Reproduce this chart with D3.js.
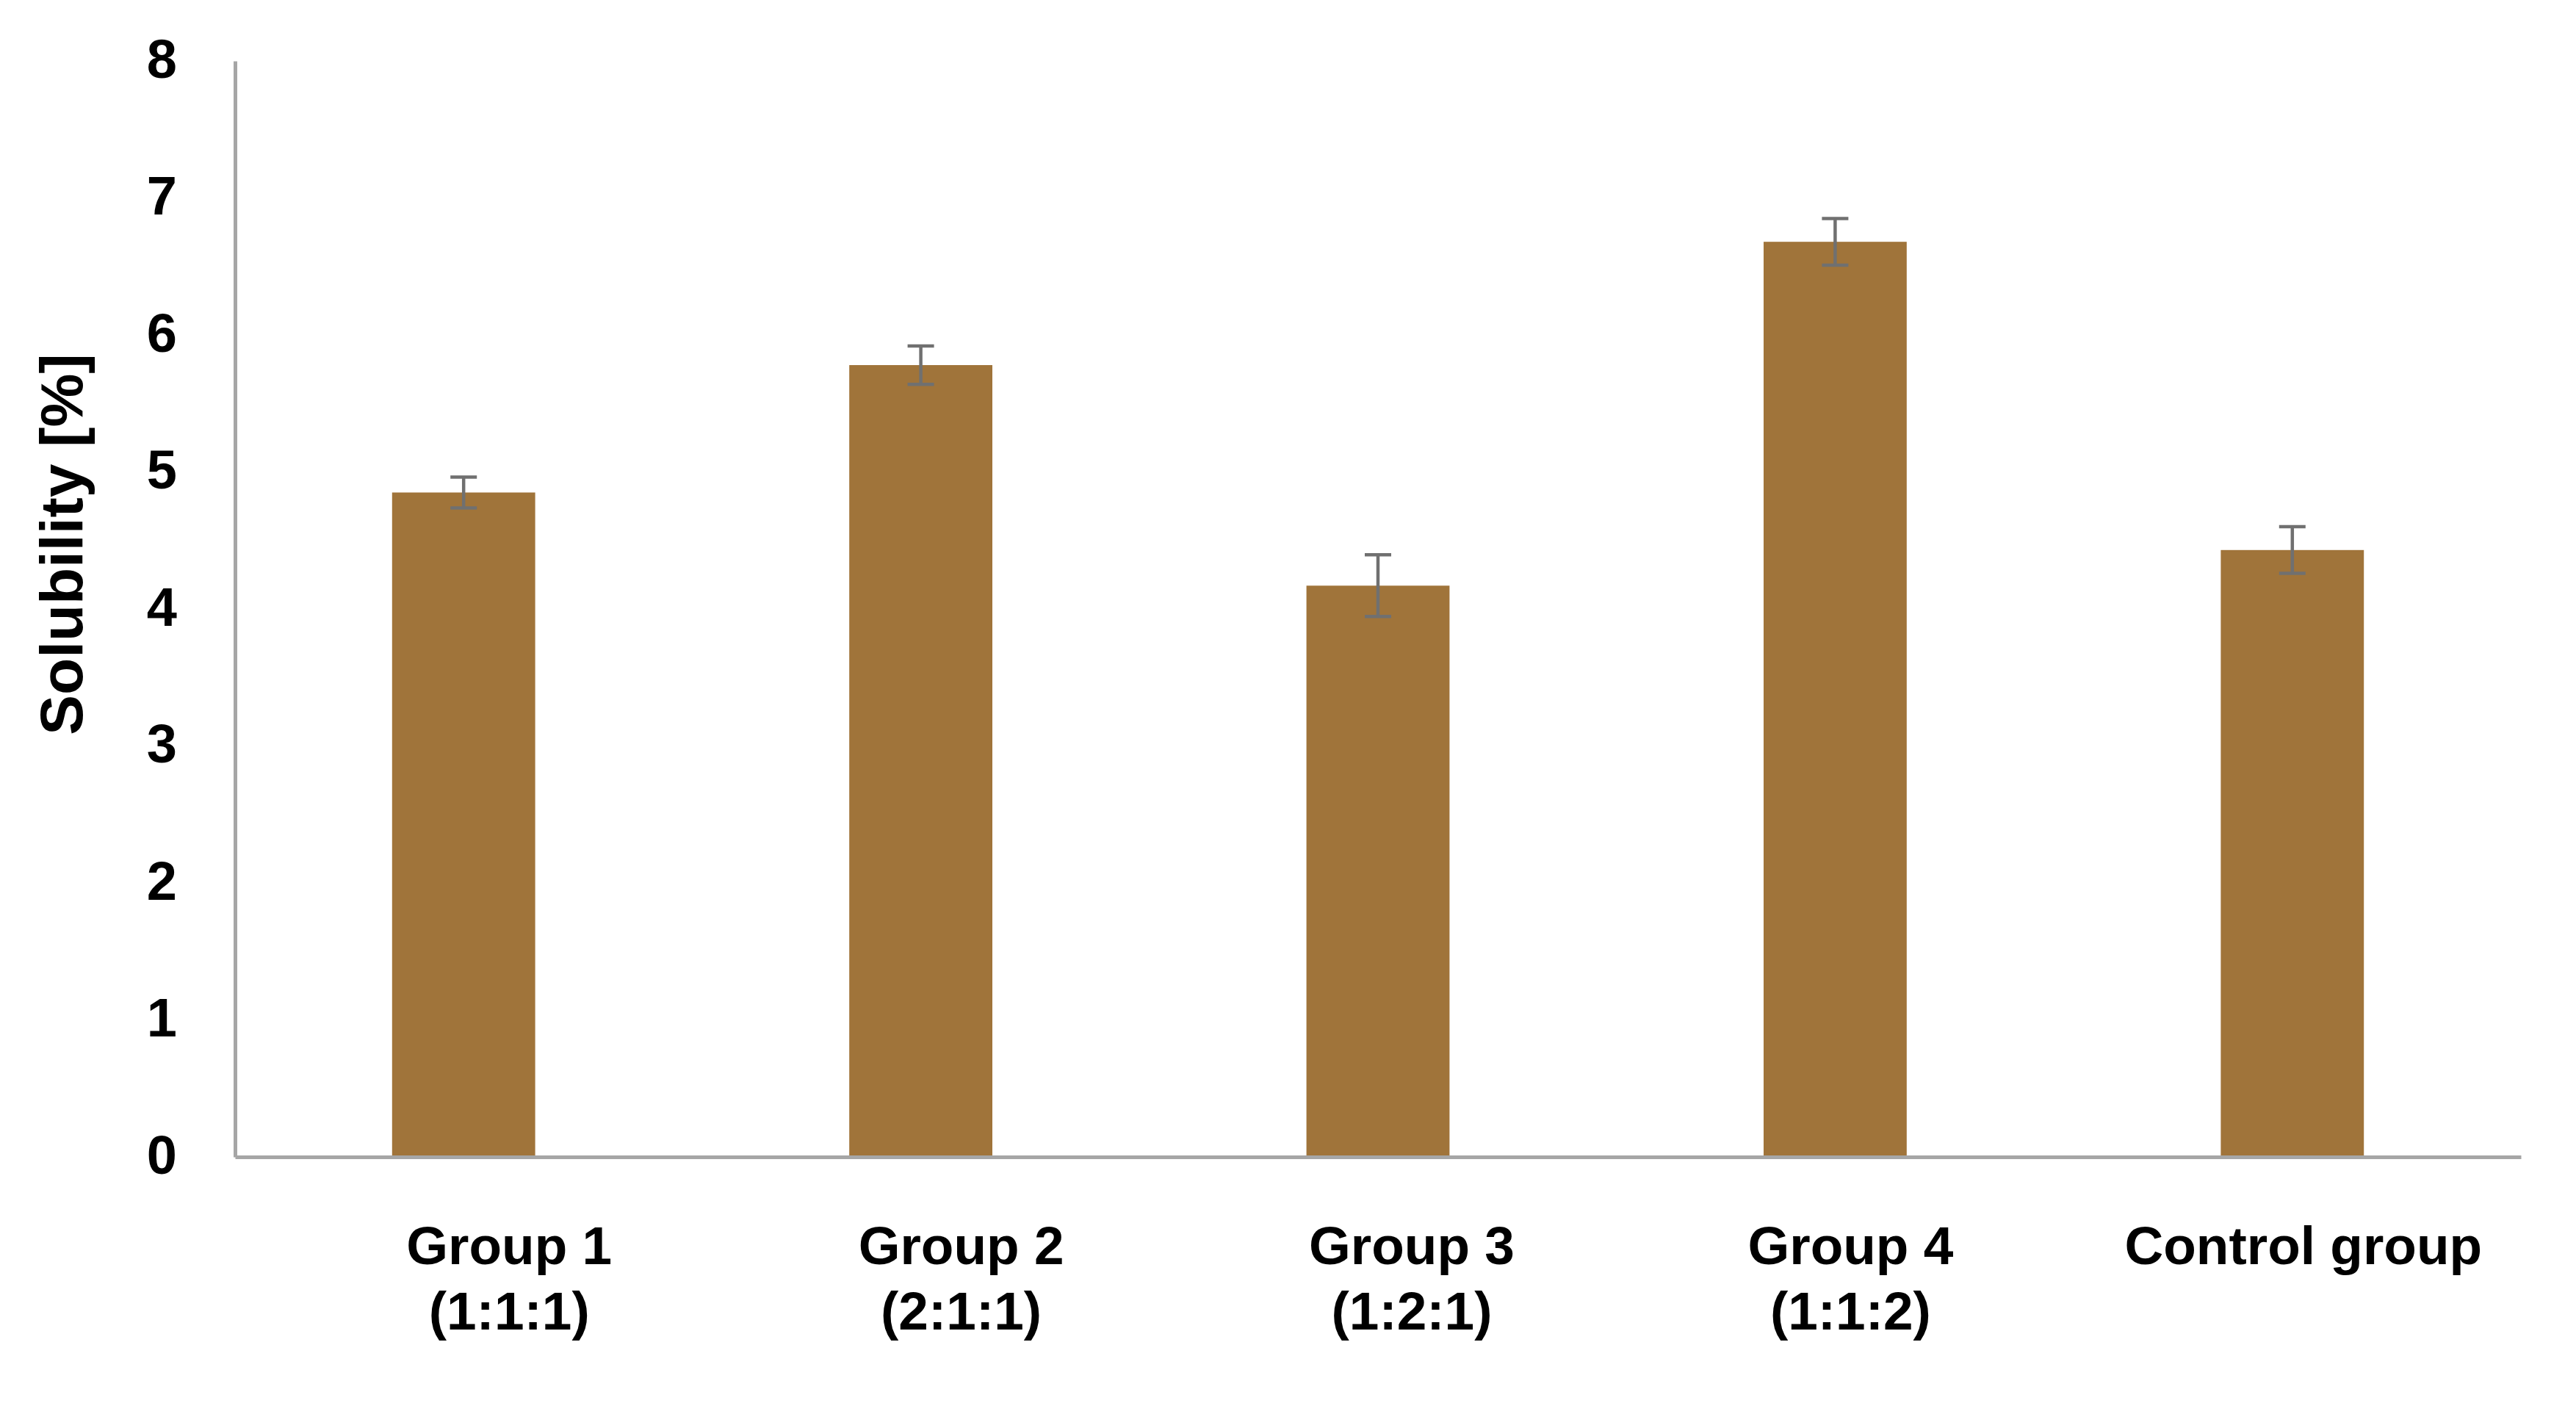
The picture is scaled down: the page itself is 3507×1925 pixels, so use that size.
<!DOCTYPE html>
<html>
<head>
<meta charset="utf-8">
<script src="https://cdn.jsdelivr.net/npm/d3@7"></script>
<style>
  body { margin: 0; background: #fff; }
  text { font-family: "Liberation Sans", Arial, sans-serif; font-weight: bold; fill: #000; }
</style>
</head>
<body>
<svg width="3507" height="1925"></svg>
<script>
// data
const groups = ["Group 1", "Group 2", "Group 3", "Group 4", "Control group"];
const ratios = ["(1:1:1)", "(2:1:1)", "(1:2:1)", "(1:1:2)", ""];
const solubility = [4.85, 5.78, 4.17, 6.68, 4.43];
const sd = [0.113, 0.14, 0.225, 0.17, 0.17];
const yTicks = [0, 1, 2, 3, 4, 5, 6, 7, 8];

// layout
const svg = d3.select("svg");
const plotLeft = 320, plotRight = 3432, plotTop = 83, plotBottom = 1575;
// labels in the original sit a little right of the bar centres
const labelNudge = [62, 55, 46, 21, 15];

const x = d3.scaleBand()
    .domain(groups)
    .range([plotLeft, plotRight])
    .paddingInner(0.687)
    .paddingOuter(0.3435);

const y = d3.scaleLinear()
    .domain([0, 8])
    .range([plotBottom, plotTop]);

// bars
svg.selectAll("rect.bar")
    .data(solubility)
    .enter()
    .append("rect")
    .attr("class", "bar")
    .attr("x", (d, i) => x(groups[i]))
    .attr("y", d => y(d))
    .attr("width", x.bandwidth())
    .attr("height", d => plotBottom - y(d))
    .attr("fill", "#a0743a");

// error bars
const err = svg.append("g")
    .attr("stroke", "#707070")
    .attr("stroke-width", 4.5);

solubility.forEach(function(d, i) {
    const cx = x(groups[i]) + x.bandwidth() / 2;
    const cap = 18;
    err.append("line")
        .attr("x1", cx).attr("x2", cx)
        .attr("y1", y(d - sd[i])).attr("y2", y(d + sd[i]));
    err.append("line")
        .attr("x1", cx - cap).attr("x2", cx + cap)
        .attr("y1", y(d + sd[i])).attr("y2", y(d + sd[i]));
    err.append("line")
        .attr("x1", cx - cap).attr("x2", cx + cap)
        .attr("y1", y(d - sd[i])).attr("y2", y(d - sd[i]));
});

// y axis, labels only
const yAxis = d3.axisLeft(y)
    .tickValues(yTicks)
    .tickSize(0)
    .tickPadding(79)
    .tickFormat(d3.format("d"));

const gy = svg.append("g")
    .attr("transform", "translate(" + plotLeft + ",0)")
    .call(yAxis);
gy.select(".domain").attr("stroke", "#a6a6a6").attr("stroke-width", 5);
gy.selectAll("text")
    .style("font-size", "74px")
    .attr("dy", "0.3em");

// x axis line
const xAxis = d3.axisBottom(x).tickSize(0).tickFormat("");
const gx = svg.append("g")
    .attr("transform", "translate(0," + plotBottom + ")")
    .call(xAxis);
gx.select(".domain").attr("stroke", "#a6a6a6").attr("stroke-width", 5);

// category labels
const cat = svg.append("g");
groups.forEach(function(g, i) {
    const cx = x(g) + x.bandwidth() / 2 + labelNudge[i];
    const t = cat.append("text")
        .attr("text-anchor", "middle")
        .style("font-size", "73px");
    t.append("tspan").attr("x", cx).attr("y", 1721).text(g);
    if (ratios[i]) {
        t.append("tspan").attr("x", cx).attr("y", 1810).text(ratios[i]);
    }
});

// y title
svg.append("text")
    .attr("transform", "translate(112,741) rotate(-90)")
    .attr("text-anchor", "middle")
    .style("font-size", "82px")
    .text("Solubility [%]");
</script>
</body>
</html>
